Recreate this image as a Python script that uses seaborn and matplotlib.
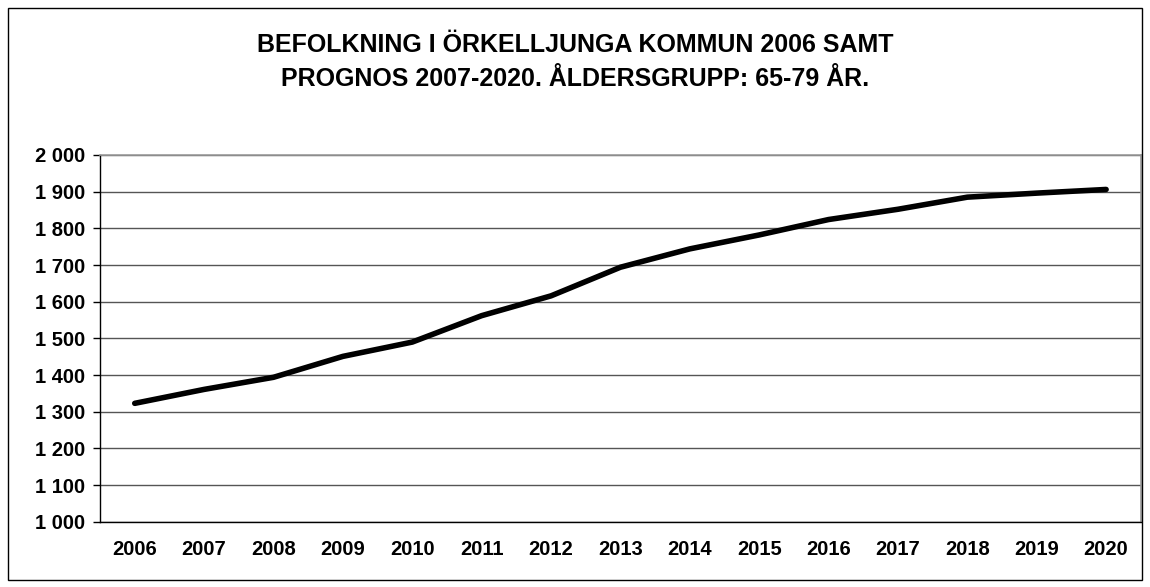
import numpy as np
import pandas as pd
import matplotlib
matplotlib.use("Agg")
import matplotlib.pyplot as plt
import matplotlib.ticker as mticker
from matplotlib.patches import Rectangle
import seaborn as sns

# Data
years = ["2006", "2007", "2008", "2009", "2010", "2011", "2012", "2013",
         "2014", "2015", "2016", "2017", "2018", "2019", "2020"]
population = [1323, 1361, 1394, 1451, 1490, 1562, 1616, 1694,
              1744, 1782, 1824, 1852, 1885, 1896, 1906]
y_ticks = list(range(1000, 2001, 100))

title = ("BEFOLKNING I ÖRKELLJUNGA KOMMUN 2006 SAMT\n"
         "PROGNOS 2007-2020. ÅLDERSGRUPP: 65-79 ÅR.")

sns.set_theme(style="white")
plt.rcParams["font.family"] = ["Liberation Sans", "DejaVu Sans"]
plt.rcParams["text.color"] = "black"
plt.rcParams["xtick.color"] = "black"
plt.rcParams["ytick.color"] = "black"

df = pd.DataFrame({"pos": np.arange(len(years)), "value": population})

fig = plt.figure(figsize=(11.5, 5.87), dpi=100)
ax = fig.add_axes([0.087, 0.111, 0.905, 0.625])

sns.lineplot(data=df, x="pos", y="value", ax=ax, color="black", linewidth=4,
             solid_capstyle="round", solid_joinstyle="round")

ax.set_xlim(-0.5, len(years) - 0.5)
ax.set_ylim(1000, 2000)
ax.set_yticks(y_ticks)
ax.yaxis.set_major_formatter(mticker.FuncFormatter(lambda v, p: f"{int(v):,}".replace(",", " ")))
ax.set_xticks(np.arange(len(years)))
ax.set_xticklabels(years)
ax.set_xticks(np.arange(-0.5, len(years), 1.0), minor=True)
ax.grid(axis="y", color="#555555", linewidth=1.0)
ax.set_axisbelow(True)

ax.tick_params(axis="x", which="major", length=0, pad=13, labelsize=14.5, labelcolor="black")
ax.tick_params(axis="x", which="minor", length=5, width=1, color="black", direction="out")
ax.tick_params(axis="y", which="major", length=5, width=1, color="black", direction="out",
               labelsize=14.5, labelcolor="black", left=True, pad=6)
for lab in ax.get_xticklabels() + ax.get_yticklabels():
    lab.set_fontweight("bold")

for side in ["top", "right"]:
    ax.spines[side].set_color("#999999")
    ax.spines[side].set_linewidth(1.2)
for side in ["left", "bottom"]:
    ax.spines[side].set_color("black")
    ax.spines[side].set_linewidth(1.0)

ax.set_xlabel("")
ax.set_ylabel("")

fig.text(0.5, 0.894, title, ha="center", va="center", fontsize=18,
         fontweight="bold", linespacing=1.5, color="black")

fig.patches.append(Rectangle((0.007, 0.012), 0.986, 0.975, transform=fig.transFigure,
                             fill=False, edgecolor="black", linewidth=1.0))

fig.savefig("out.png", dpi=100)
plt.close()
